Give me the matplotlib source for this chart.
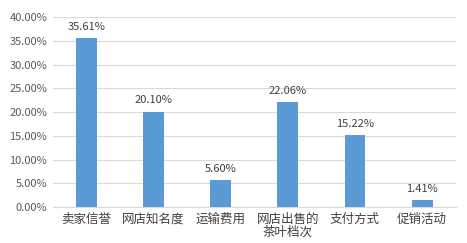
import matplotlib
matplotlib.use("Agg")
import matplotlib.pyplot as plt
from matplotlib.ticker import PercentFormatter, MultipleLocator

plt.rcParams['font.family'] = ['Noto Sans CJK SC', 'DejaVu Sans']

categories = ["卖家信誉", "网店知名度", "运输费用", "网店出售的\n茶叶档次", "支付方式", "促销活动"]
values = [35.61, 20.10, 5.60, 22.06, 15.22, 1.41]

fig = plt.figure(figsize=(4.67, 2.43), dpi=100)
ax = fig.add_axes([0.113, 0.148, 0.863, 0.782])

x = range(len(categories))
bars = ax.bar(x, values, width=0.31, color='#5B9BD5', zorder=3)
for b, v in zip(bars, values):
    ax.text(b.get_x() + b.get_width() / 2, v + 1.3, f"{v:.2f}%", ha='center', va='bottom',
            fontsize=8, color='#404040')

ax.set_xlim(-0.5, len(categories) - 0.5)
ax.set_ylim(0, 40)
ax.yaxis.set_major_locator(MultipleLocator(5))
ax.yaxis.set_major_formatter(PercentFormatter(decimals=2))
ax.grid(axis='y', color='#D9D9D9', linewidth=0.8, zorder=0)
for s in ['top', 'right', 'left']:
    ax.spines[s].set_visible(False)
ax.spines['bottom'].set_color('#D9D9D9')
ax.set_xticks(list(x))
ax.set_xticklabels(categories, fontsize=9, color='#404040', linespacing=1.0)
ax.tick_params(axis='y', labelsize=8, labelcolor='#595959', length=0, pad=4)
ax.tick_params(axis='x', length=0, pad=4)

fig.savefig("out.png", dpi=100)
